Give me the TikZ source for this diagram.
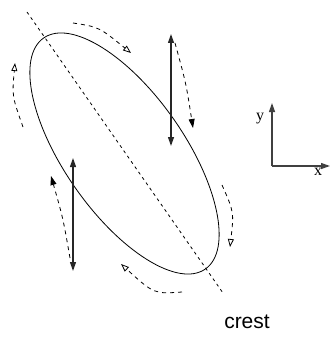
\documentclass[tikz,border=0pt]{standalone}
\usepackage{fontspec}
\setmainfont{Liberation Serif}
\setsansfont{Liberation Sans}
\usetikzlibrary{arrows.meta}
\begin{document}
\begin{tikzpicture}[x=1pt,y=-1pt,
  curve/.style={line width=0.8pt,black},
  axisline/.style={line width=0.8pt,black,dash pattern=on 3pt off 3.5pt},
  flow/.style={line width=0.8pt,black,dash pattern=on 4pt off 4pt,-{Triangle[open,length=8pt,width=6pt]}},
  flowfill/.style={line width=0.8pt,black,dash pattern=on 4pt off 4pt,-{Triangle[length=9pt,width=6pt]}},
  vel/.style={line width=1.2pt,black!85,{Triangle[length=9pt,width=6pt]}-{Triangle[length=9pt,width=6pt]}},
  ax/.style={line width=1.2pt,black!75,-{Triangle[length=9pt,width=6pt]}},
  lbl/.style={font=\fontsize{16}{16}\selectfont\rmfamily,inner sep=0pt}]
\useasboundingbox (0,0) rectangle (330,337);
% ellipse
\coordinate (c) at (124.5,153.5);
\draw[curve,rotate around={-55:(c)}] (c) ellipse [x radius=141, y radius=60];
% major axis
\coordinate (m1) at (27,12);
\coordinate (m2) at (223,293);
\draw[axisline] (m1) -- (m2);
% vertical velocity arrows
\coordinate (r1) at (171,34);
\coordinate (r2) at (171,146);
\draw[vel] (r1) -- (r2);
\coordinate (l1) at (73,158);
\coordinate (l2) at (73,271);
\draw[vel] (l1) -- (l2);
% filled dashed arrows
\coordinate (rf1) at (175,43);
\coordinate (rf2) at (193,128);
\draw[flowfill] (rf1) .. controls (186,83) .. (rf2);
\coordinate (lf1) at (70,258);
\coordinate (lf2) at (51,176);
\draw[flowfill] (lf1) .. controls (63,218) .. (lf2);
% open dashed arrows
\coordinate (t1) at (73,23);
\coordinate (t2) at (131,53);
\draw[flow] (t1) .. controls (99,27) .. (t2);
\coordinate (ll1) at (23,127);
\coordinate (ll2) at (15,63);
\draw[flow] (ll1) .. controls (12,96) .. (ll2);
\coordinate (b1) at (182,292);
\coordinate (b2) at (121,264);
\draw[flow] (b1) .. controls (154,294) .. (b2);
\coordinate (rr1) at (222,185);
\coordinate (rr2) at (230,247);
\draw[flow] (rr1) .. controls (234,212) .. (rr2);
% axes
\coordinate (o) at (272,166);
\coordinate (ya) at (272,103);
\coordinate (xa) at (330,166);
\draw[ax] (o) -- (ya);
\draw[ax] (o) -- (xa);
\node[lbl] (ylab) at (260,119) {y};
\node[lbl] (xlab) at (318,172) {x};
% label
\node[font=\fontsize{21}{21}\selectfont\sffamily,inner sep=0pt] (crest) at (247,322) {crest};
\end{tikzpicture}
\end{document}
